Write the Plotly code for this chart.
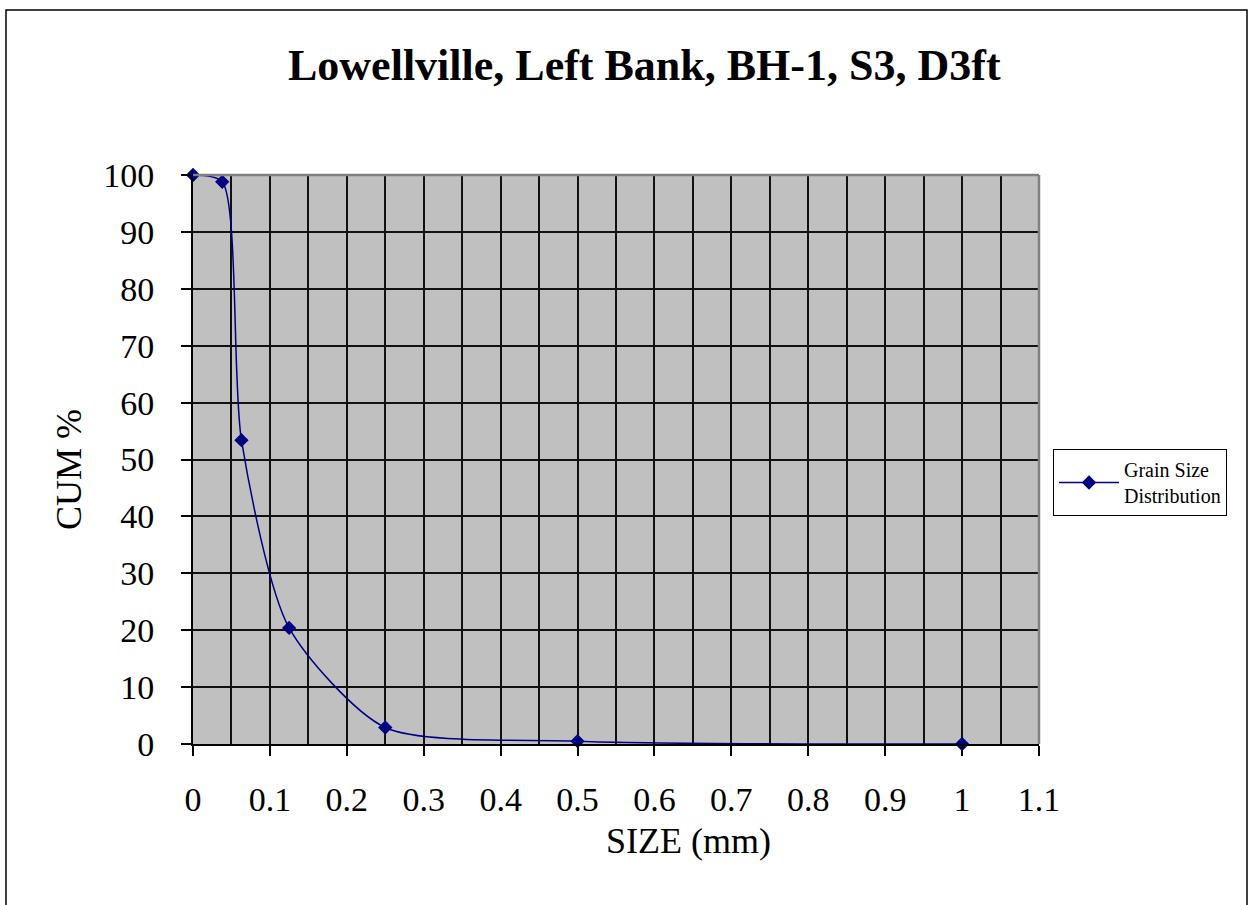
import plotly.graph_objects as go

size_mm = [0, 0.038, 0.063, 0.125, 0.25, 0.5, 1.0]
cum_pct = [100, 98.8, 53.4, 20.4, 2.9, 0.5, 0.0]
series_name = "Grain Size<br>Distribution"
title_text = "Lowellville, Left Bank, BH-1, S3, D3ft"
x_title = "SIZE (mm)"
y_title = "CUM %"
x_ticks = [0, 0.1, 0.2, 0.3, 0.4, 0.5, 0.6, 0.7, 0.8, 0.9, 1.0, 1.1]
x_ticklabels = ["0", "0.1", "0.2", "0.3", "0.4", "0.5", "0.6", "0.7", "0.8", "0.9", "1", "1.1"]
y_ticks = list(range(0, 101, 10))

W, H = 1251, 905
L, R, T, B = 193, 1039, 175, 744
pw, ph = R - L, B - T

def px(xp):
    return (xp - L) / pw

def py(yp):
    return (B - yp) / ph

FONT = "Liberation Serif, Times New Roman, serif"
NAVY = "#000080"

fig = go.Figure()
fig.add_trace(go.Scatter(
    x=size_mm, y=cum_pct, name=series_name,
    mode="lines+markers",
    line=dict(color=NAVY, width=1.5, shape="spline", smoothing=0.7),
    marker=dict(symbol="diamond", size=11, color=NAVY),
    cliponaxis=False,
))

fig.update_layout(
    width=W, height=H,
    margin=dict(l=L, r=W - R, t=T, b=H - B, pad=0),
    paper_bgcolor="white",
    plot_bgcolor="#C0C0C0",
    font=dict(family=FONT, color="black"),
    showlegend=True,
    legend=dict(
        x=px(1053), y=py(449), xanchor="left", yanchor="top",
        bordercolor="black", borderwidth=1, bgcolor="white",
        font=dict(family=FONT, size=20, color="black"),
        itemwidth=60,
    ),
    xaxis=dict(
        range=[0, 1.1], tickmode="array", tickvals=x_ticks, ticktext=x_ticklabels,
        ticks="outside", ticklen=10, tickwidth=1.5, tickcolor="black",
        tickfont=dict(family=FONT, size=34, color="black"),
        ticklabelstandoff=14,
        showline=True, linecolor="black", linewidth=2,
        showgrid=True, gridcolor="#111111", gridwidth=1.5,
        minor=dict(dtick=0.05, showgrid=True, gridcolor="#111111", gridwidth=1.5, ticks=""),
        zeroline=False, fixedrange=True,
    ),
    yaxis=dict(
        range=[0, 100], tickmode="array", tickvals=y_ticks,
        ticks="outside", ticklen=10, tickwidth=1.5, tickcolor="black",
        tickfont=dict(family=FONT, size=34, color="black"),
        ticklabelstandoff=20,
        showline=True, linecolor="black", linewidth=2,
        showgrid=True, gridcolor="#111111", gridwidth=1.5,
        zeroline=False, fixedrange=True,
    ),
    shapes=[
        dict(type="line", xref="paper", yref="paper", x0=0, x1=1, y0=1, y1=1,
             line=dict(color="#808080", width=2.5)),
        dict(type="line", xref="paper", yref="paper", x0=1, x1=1, y0=0, y1=1,
             line=dict(color="#808080", width=2.5)),
        dict(type="rect", xref="paper", yref="paper",
             x0=px(6), x1=px(1247), y0=py(907), y1=py(10),
             line=dict(color="black", width=1.5), layer="below"),
    ],
    annotations=[
        dict(text="<b>" + title_text + "</b>", xref="paper", yref="paper",
             x=px(644), y=py(66), xanchor="center", yanchor="middle",
             showarrow=False, font=dict(family=FONT, size=44, color="black")),
        dict(text=x_title, xref="paper", yref="paper",
             x=px(688), y=py(841), xanchor="center", yanchor="middle",
             showarrow=False, font=dict(family=FONT, size=36, color="black")),
        dict(text=y_title, xref="paper", yref="paper",
             x=px(69), y=py(470), xanchor="center", yanchor="middle",
             textangle=-90, showarrow=False,
             font=dict(family=FONT, size=36, color="black")),
    ],
)

fig.write_html("out.html")
